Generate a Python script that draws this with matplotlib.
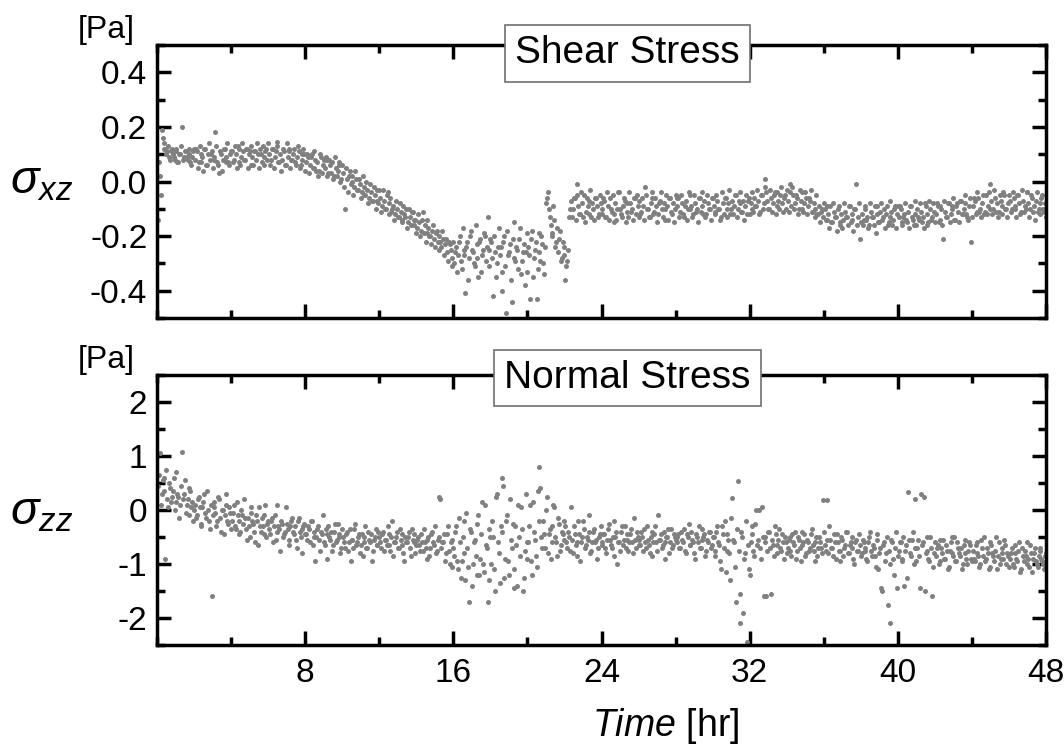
import numpy as np
import matplotlib.pyplot as plt
from matplotlib.ticker import MultipleLocator

plt.rcParams['font.family'] = ['Liberation Sans', 'DejaVu Sans']
plt.rcParams['mathtext.fontset'] = 'custom'
plt.rcParams['mathtext.rm'] = 'Liberation Sans'
plt.rcParams['mathtext.it'] = 'Liberation Sans:italic'

# shear stress sigma_xz [Pa]; readings at t = 0.05, 0.15, ... hr (rows = 2 hr)
shear_a = [
    -0.14, 0.02, 0.19, 0.14, 0.12, 0.11, 0.09, 0.11, 0.10, 0.08, 0.12, 0.07, 0.10, 0.20, 0.09, 0.11, 0.08, 0.10, 0.06, 0.11,
    0.08, 0.11, 0.07, 0.10, 0.09, 0.12, 0.06, 0.10, 0.08, 0.11, 0.09, 0.18, 0.07, 0.03, 0.10, 0.08, 0.12, 0.09, 0.07, 0.10,
    0.11, 0.08, 0.10, 0.13, 0.07, 0.09, 0.11, 0.08, 0.12, 0.10, 0.06, 0.09, 0.11, 0.08, 0.10, 0.12, 0.07, 0.09, 0.11, 0.08,
    0.10, 0.08, 0.12, 0.09, 0.145, 0.07, 0.10, 0.08, 0.11, 0.06, 0.09, 0.12, 0.08, 0.10, 0.07, 0.09, 0.11, 0.06, 0.08, 0.10,
    0.07, 0.09, 0.06, 0.10, 0.05, 0.08, 0.07, 0.04, 0.09, 0.06, 0.05, 0.08, 0.03, 0.06, 0.07, 0.02, 0.05, 0.04, 0.06, 0.01,
    0.03, -0.10, 0.01, 0.02, -0.01, 0.00, -0.02, 0.01, -0.03, -0.01, -0.04, -0.02, -0.05, -0.03, -0.06, -0.04, -0.07, -0.05, -0.03, -0.08,
    -0.06, -0.09, -0.07, -0.10, -0.04, -0.08, -0.11, -0.09, -0.12, -0.10, -0.13, -0.11, -0.14, -0.12, -0.10, -0.15, -0.13, -0.11, -0.16, -0.14,
    -0.17, -0.15, -0.18, -0.11, -0.16, -0.19, -0.17, -0.20, -0.18, -0.21, -0.19, -0.22, -0.20, -0.24, -0.21, -0.23, -0.26, -0.22, -0.25, -0.28,
    -0.30, -0.24, -0.27, -0.20, -0.32, -0.25, -0.41, -0.22, -0.28, -0.18, -0.26, -0.31, -0.23, -0.35, -0.21, -0.27, -0.19, -0.29, -0.13, -0.25,
    -0.22, -0.42, -0.26, -0.30, -0.17, -0.24, -0.33, -0.20, -0.48, -0.27, -0.23, -0.44, -0.15, -0.29, -0.25, -0.21, -0.34, -0.26, -0.38, -0.19,
    -0.24, -0.43, -0.18, -0.28, -0.22, -0.32, -0.26, -0.20, -0.30, -0.24, -0.06, -0.10, -0.16, -0.20, -0.14, -0.22, -0.26, -0.18, -0.28, -0.24,
    -0.36, -0.29, -0.13, -0.07, -0.10, -0.06, -0.01, -0.09, -0.12, -0.08, -0.05, -0.11, -0.09, -0.07, -0.13, -0.10, -0.06, -0.09, -0.12, -0.08,
    -0.10, -0.07, -0.13, -0.09, -0.06, -0.11, -0.15, -0.08, -0.10, -0.04, -0.12, -0.09, -0.07, -0.11, -0.13, -0.08, -0.10, -0.06, -0.12, -0.09,
    -0.07, -0.11, -0.09, -0.02, -0.10, -0.13, -0.08, -0.06, -0.11, -0.09, -0.12, -0.07, -0.10, -0.08, -0.14, -0.09, -0.06, -0.11, -0.08, -0.10,
    -0.09, -0.06, -0.11, -0.08, -0.13, -0.07, -0.10, -0.05, -0.09, -0.12, -0.08, -0.10, -0.06, -0.11, -0.09, -0.07, -0.12, -0.08, -0.10, -0.06,
    -0.09, -0.11, -0.07, -0.10, -0.13, -0.08, -0.06, -0.10, -0.08, -0.12, -0.07, -0.09, -0.05, -0.10, -0.08, -0.11, -0.07, -0.09, -0.12, -0.06,
    -0.08, -0.10, -0.06, -0.09, -0.07, -0.11, -0.05, -0.08, 0.01, -0.07, -0.10, -0.06, -0.08, -0.04, -0.09, -0.07, -0.05, -0.08, -0.06, -0.10,
    -0.07, -0.01, -0.09, -0.05, -0.08, -0.06, -0.10, -0.07, -0.04, -0.08, -0.06, -0.09, -0.07, -0.11, -0.08, -0.10, -0.12, -0.09, -0.11, -0.13,
    -0.10, -0.14, -0.12, -0.09, -0.15, -0.11, -0.13, -0.10, -0.16, -0.12, -0.14, -0.11, -0.13, -0.09, -0.15, -0.12, -0.10, -0.01, -0.13, -0.21,
    -0.12, -0.14, -0.10, -0.13, -0.16, -0.11, -0.13, -0.09, -0.12, -0.15, -0.11, -0.14, -0.10, -0.12, -0.16, -0.13, -0.11, -0.14, -0.09, -0.12,
    -0.13, -0.10, -0.15, -0.12, -0.14, -0.11, -0.09, -0.13, -0.16, -0.12, -0.10, -0.14, -0.11, -0.13, -0.08, -0.12, -0.15, -0.10, -0.13, -0.11,
    -0.12, -0.09, -0.14, -0.10, -0.21, -0.11, -0.13, -0.08, -0.12, -0.10, -0.14, -0.09, -0.11, -0.07, -0.12, -0.10, -0.08, -0.13, -0.09, -0.22,
    -0.09, -0.07, -0.11, -0.06, -0.10, -0.08, -0.12, -0.05, -0.09, -0.01, -0.07, -0.10, -0.06, -0.08, -0.11, -0.07, -0.09, -0.05, -0.10, -0.08,
    -0.07, -0.10, -0.06, -0.09, -0.05, -0.08, -0.11, -0.07, -0.09, -0.04, -0.08, -0.10, -0.06, -0.09, -0.07, -0.11, -0.08, -0.06, -0.10, -0.08,
]

# shear stress, readings in between: t = 0.1, 0.2, ... 48.0 hr
shear_b = [
    0.07, -0.05, 0.16, 0.12, 0.10, 0.13, 0.08, 0.12, 0.09, 0.11, 0.07, 0.10, 0.13, 0.08, 0.11, 0.09, 0.12, 0.07, 0.09, 0.12,
    0.12, 0.05, 0.13, 0.07, 0.04, 0.12, 0.06, 0.14, 0.10, 0.05, 0.08, 0.13, 0.06, 0.11, 0.04, 0.12, 0.07, 0.14, 0.06, 0.11,
    0.07, 0.13, 0.05, 0.12, 0.06, 0.14, 0.08, 0.12, 0.05, 0.11, 0.13, 0.06, 0.11, 0.14, 0.05, 0.10, 0.13, 0.06, 0.12, 0.14,
    0.06, 0.12, 0.05, 0.11, 0.13, 0.07, 0.04, 0.12, 0.06, 0.14, 0.11, 0.05, 0.08, 0.12, 0.06, 0.13, 0.05, 0.10, 0.12, 0.04,
    0.10, 0.03, 0.09, 0.05, 0.11, 0.04, 0.02, 0.10, 0.03, 0.08, 0.09, 0.02, 0.08, 0.03, 0.01, 0.09, 0.02, 0.07, 0.00, 0.06,
    -0.02, 0.05, -0.04, 0.04, 0.02, -0.05, 0.04, -0.03, 0.01, -0.06, 0.02, -0.05, 0.00, -0.08, -0.01, -0.07, -0.02, -0.10, -0.07, -0.03,
    -0.11, -0.03, -0.10, -0.05, -0.12, -0.06, -0.10, -0.14, -0.07, -0.13, -0.08, -0.15, -0.09, -0.13, -0.17, -0.10, -0.16, -0.11, -0.14, -0.19,
    -0.12, -0.20, -0.14, -0.19, -0.22, -0.14, -0.20, -0.23, -0.16, -0.24, -0.18, -0.25, -0.22, -0.18, -0.27, -0.21, -0.29, -0.23, -0.31, -0.22,
    -0.26, -0.33, -0.22, -0.29, -0.17, -0.27, -0.24, -0.36, -0.20, -0.25, -0.30, -0.16, -0.28, -0.22, -0.33, -0.25, -0.20, -0.24, -0.31, -0.21,
    -0.28, -0.20, -0.35, -0.24, -0.27, -0.40, -0.22, -0.31, -0.18, -0.26, -0.36, -0.21, -0.28, -0.24, -0.32, -0.17, -0.29, -0.23, -0.26, -0.33,
    -0.27, -0.21, -0.35, -0.25, -0.43, -0.19, -0.29, -0.23, -0.34, -0.08, -0.04, -0.13, -0.19, -0.09, -0.24, -0.17, -0.21, -0.29, -0.22, -0.27,
    -0.31, -0.25, -0.10, -0.13, -0.06, -0.14, -0.05, -0.12, -0.04, -0.13, -0.15, -0.06, -0.12, -0.03, -0.08, -0.14, -0.06, -0.13, -0.05, -0.12,
    -0.06, -0.13, -0.04, -0.14, -0.10, -0.05, -0.12, -0.14, -0.04, -0.10, -0.13, -0.06, -0.15, -0.08, -0.04, -0.11, -0.14, -0.06, -0.05, -0.13,
    -0.12, -0.06, -0.14, -0.05, -0.10, -0.13, -0.04, -0.12, -0.06, -0.15, -0.08, -0.04, -0.13, -0.10, -0.05, -0.14, -0.06, -0.12, -0.15, -0.05,
    -0.06, -0.13, -0.05, -0.12, -0.09, -0.14, -0.04, -0.10, -0.13, -0.05, -0.11, -0.15, -0.06, -0.04, -0.12, -0.13, -0.05, -0.10, -0.14, -0.06,
    -0.12, -0.05, -0.10, -0.14, -0.04, -0.12, -0.06, -0.13, -0.03, -0.10, -0.12, -0.05, -0.13, -0.07, -0.04, -0.11, -0.14, -0.05, -0.07, -0.12,
    -0.04, -0.11, -0.09, -0.03, -0.12, -0.05, -0.10, -0.02, -0.04, -0.10, -0.03, -0.11, -0.05, -0.12, -0.04, -0.10, -0.02, -0.11, -0.05, -0.03,
    -0.11, -0.04, -0.02, -0.10, -0.05, -0.12, -0.03, -0.10, -0.11, -0.04, -0.12, -0.06, -0.03, -0.11, -0.13, -0.05, -0.12, -0.15, -0.10, -0.08,
    -0.14, -0.09, -0.17, -0.15, -0.08, -0.13, -0.18, -0.09, -0.15, -0.17, -0.08, -0.13, -0.16, -0.09, -0.14, -0.18, -0.10, -0.16, -0.08, -0.15,
    -0.16, -0.09, -0.14, -0.17, -0.08, -0.13, -0.16, -0.19, -0.09, -0.15, -0.08, -0.13, -0.17, -0.09, -0.15, -0.07, -0.16, -0.10, -0.17, -0.09,
    -0.09, -0.16, -0.13, -0.08, -0.15, -0.17, -0.09, -0.14, -0.07, -0.16, -0.13, -0.08, -0.15, -0.17, -0.09, -0.16, -0.07, -0.14, -0.08, -0.15,
    -0.08, -0.15, -0.09, -0.16, -0.07, -0.13, -0.08, -0.15, -0.09, -0.06, -0.14, -0.08, -0.15, -0.07, -0.12, -0.05, -0.12, -0.14, -0.06, -0.13,
    -0.06, -0.12, -0.04, -0.11, -0.13, -0.05, -0.11, -0.12, -0.04, -0.10, -0.12, -0.03, -0.11, -0.13, -0.05, -0.12, -0.04, -0.10, -0.13, -0.05,
    -0.11, -0.04, -0.10, -0.13, -0.05, -0.12, -0.03, -0.11, -0.10, -0.04, -0.13, -0.05, -0.11, -0.14, -0.04, -0.10, -0.12, -0.05, -0.11, -0.13,
]

# normal stress sigma_zz [Pa]; t = 0.05, 0.15, ... hr
normal_a = [
    0.45, 1.05, 0.30, 0.60, -0.90, 0.20, 0.50, 0.15, 0.35, 0.00, 0.70, 0.25, 0.10, 1.08, 0.30, -0.05, 0.20, 0.40, 0.05, -0.20,
    0.10, -0.10, 0.25, -0.30, 0.05, 0.30, -0.15, 0.00, -0.35, -1.60, 0.15, -0.05, -0.20, 0.20, -0.40, 0.00, -0.10, 0.30, -0.25, -0.05,
    -0.20, 0.10, -0.35, -0.10, -0.45, 0.00, -0.25, -0.15, -0.55, -0.30, 0.05, -0.20, -0.40, -0.10, -0.65, -0.30, -0.15, -0.45, 0.10, -0.25,
    -0.35, -0.20, -0.60, -0.10, -0.40, -0.30, -0.75, -0.25, -0.45, 0.05, -0.35, -0.55, -0.20, -0.40, -0.30, -0.70, -0.15, -0.50, -0.35, -0.25,
    -0.45, -0.30, -0.60, -0.20, -0.50, -0.95, -0.35, -0.55, -0.40, -0.10, -0.65, -0.45, -0.30, -0.55, -0.75, -0.40, -0.60, -0.25, -0.50, -0.70,
    -0.50, -0.70, -0.40, -0.60, -0.95, -0.55, -0.35, -0.65, -0.50, -0.80, -0.45, -0.60, -0.30, -0.70, -0.55, -0.45, -0.75, -0.50, -0.65, -0.40,
    -0.60, -0.45, -0.75, -0.55, -0.30, -0.65, -0.50, -0.85, -0.60, -0.40, -0.70, -0.55, -0.45, -0.95, -0.60, -0.50, -0.70, -0.35, -0.60, -0.80,
    -0.55, -0.65, -0.45, -0.75, -0.60, -0.90, -0.50, -0.70, -0.40, -0.65, -0.80, -0.55, 0.25, -0.70, -0.60, -0.95, -0.45, -0.75, -0.60, -1.05,
    -0.85, -0.30, -1.10, -0.60, -0.95, -0.20, -1.30, -0.70, -1.70, -0.40, -1.00, -0.55, -1.20, -0.10, -0.90, 0.15, -1.15, -0.65, -1.70, -0.35,
    -1.00, -0.50, -1.50, 0.30, -0.80, -0.30, 0.60, -1.25, -0.20, -0.95, 0.20, -0.70, -1.10, -0.30, -1.40, -0.50, 0.05, -1.50, -0.75, -0.90,
    -0.60, 0.10, -1.20, -0.40, -0.85, 0.35, 0.80, -0.50, -0.20, -0.70, 0.25, -0.45, -0.90, -0.30, 0.05, -0.60, -0.15, -0.75, -0.40, -0.55,
    -0.30, -0.70, -0.50, 0.05, -0.80, -0.45, -0.60, -0.20, -0.95, -0.50, -0.35, -0.65, -0.55, -0.10, -0.75, -0.40, -0.60, -0.90, -0.50, -0.30,
    -0.60, -0.45, -0.80, -0.35, -0.55, -0.70, -0.20, -0.50, -1.00, -0.60, -0.40, -0.65, -0.30, -0.55, -0.75, -0.45, -0.60, -0.15, -0.70, -0.50,
    -0.55, -0.40, -0.75, -0.60, -0.30, -0.65, -0.50, -0.85, -0.45, -0.60, -0.10, -0.55, -0.70, -0.40, -0.60, -0.50, -0.80, -0.35, -0.65, -0.50,
    -0.60, -0.45, -0.70, -0.55, -0.35, -0.80, -0.50, -0.65, -0.40, -0.60, -0.90, -0.50, -0.30, -0.70, -0.55, -0.45, -0.75, -0.60, -0.40, -0.65,
    -0.50, -0.85, -0.30, -0.65, -1.10, -0.45, -0.20, -0.75, -0.55, -1.30, 0.22, -0.60, -1.70, 0.53, -2.10, -0.40, -1.90, -0.80, -2.45, -1.10,
    -0.60, -0.30, -0.85, 0.00, -0.55, -0.70, 0.05, -1.60, -0.50, -0.75, -0.40, -1.55, -0.65, -0.30, -0.80, -0.55, -0.70, -0.45, -0.90, -0.60,
    -0.70, -0.50, -0.85, -0.60, -0.40, -0.75, -0.55, -0.95, -0.65, -0.45, -0.80, -0.60, -0.70, -0.35, -0.75, -0.60, -0.85, -0.50, -0.70, 0.18,
    -0.65, 0.18, -0.80, -0.55, -0.70, -0.45, -0.90, -0.60, -0.75, -0.50, -0.85, -0.65, -0.40, -0.80, -0.60, -0.70, -1.00, -0.55, -0.75, -0.65,
    -0.80, -0.60, -0.70, -0.95, -0.50, -0.75, -0.65, -0.85, -0.45, -1.10, -0.70, -1.50, -0.60, -0.80, -1.75, -2.10, -0.55, -0.90, -0.70, -1.45,
    -0.75, -0.60, -0.90, -1.40, -0.65, 0.33, -0.80, -0.55, -1.00, 0.20, -0.70, -0.85, 0.30, -0.60, -1.50, -0.75, -0.90, -0.50, -1.60, -0.80,
    -0.85, -0.65, -0.95, -0.70, -0.55, -0.90, -0.75, -1.05, -0.60, -0.80, -0.50, -0.95, -0.70, -0.85, -1.10, -0.65, -0.80, -1.00, -0.60, -0.90,
    -0.75, -0.95, -0.60, -0.85, -1.00, -0.70, -0.50, -0.90, -0.80, -1.05, -0.65, -0.85, -0.75, -1.10, -0.60, -0.90, -0.80, -0.55, -1.00, -0.85,
    -0.90, -0.70, -1.05, -0.80, -0.95, -0.60, -1.10, -0.85, -0.75, -1.00, -0.90, -0.65, -1.15, -0.80, -0.95, -1.05, -0.70, -0.90, -1.00, -0.85,
]

# normal stress, readings in between: t = 0.1, 0.2, ... 48.0 hr
normal_b = [
    0.65, 0.10, 0.55, 0.35, 0.75, 0.05, 0.40, 0.25, 0.60, 0.15, 0.30, -0.15, 0.45, 0.20, 0.55, 0.10, -0.10, 0.35, 0.15, 0.00,
    -0.15, 0.20, 0.05, -0.25, 0.15, -0.05, 0.35, -0.20, 0.10, -0.10, 0.05, -0.30, 0.25, -0.15, 0.00, -0.45, 0.10, -0.20, 0.05, -0.35,
    -0.05, -0.30, 0.15, -0.20, -0.40, -0.10, 0.20, -0.35, -0.15, -0.50, -0.05, -0.25, -0.60, -0.20, 0.05, -0.40, -0.30, -0.10, -0.50, -0.20,
    -0.45, -0.15, -0.30, -0.55, 0.10, -0.35, -0.20, -0.50, -0.40, -0.25, -0.65, -0.30, -0.15, -0.45, -0.55, -0.20, -0.40, -0.80, -0.30, -0.45,
    -0.55, -0.35, -0.20, -0.65, -0.40, -0.50, -0.30, -0.75, -0.45, -0.60, -0.35, -0.90, -0.50, -0.40, -0.65, -0.25, -0.55, -0.45, -0.80, -0.35,
    -0.60, -0.45, -0.75, -0.35, -0.55, -0.70, -0.25, -0.60, -0.45, -0.65, -0.85, -0.50, -0.70, -0.40, -0.60, -0.95, -0.55, -0.35, -0.65, -0.50,
    -0.70, -0.40, -0.55, -0.65, -0.45, -0.75, -0.20, -0.60, -0.50, -0.70, -0.35, -0.65, -0.80, -0.50, -0.60, -0.40, -0.85, -0.55, -0.45, -0.65,
    -0.50, -0.75, -0.60, -0.35, -0.70, -0.55, -0.85, -0.45, -0.60, -0.30, -0.75, -0.50, 0.20, -0.60, -0.45, -0.80, -0.30, -1.00, -0.55, -0.70,
    -0.40, -0.95, -0.15, -1.25, -0.50, -0.80, -0.05, -1.05, -0.35, -1.40, -0.60, -0.85, -0.25, -1.20, -0.45, -1.00, 0.10, -0.70, -1.30, -0.50,
    -0.20, -1.10, 0.25, -0.60, -1.35, -0.40, 0.45, -0.90, -0.10, -1.20, -0.55, -0.25, -1.45, -0.65, 0.10, -0.85, -0.35, -1.25, 0.30, -0.60,
    -0.30, -0.95, 0.15, -0.55, -1.05, -0.20, 0.40, -0.70, -0.45, 0.00, -0.80, -0.35, -0.60, 0.10, -0.50, -0.85, -0.25, -0.65, -0.45, -0.20,
    -0.60, -0.40, -0.75, -0.55, -0.30, -0.65, -0.85, -0.45, -0.60, -0.20, -0.70, -0.50, -0.40, -0.80, -0.60, -0.35, -0.55, -0.70, -0.45, -0.65,
    -0.45, -0.70, -0.55, -0.25, -0.65, -0.50, -0.85, -0.40, -0.60, -0.75, -0.30, -0.55, -0.70, -0.45, -0.60, -0.35, -0.80, -0.55, -0.40, -0.65,
    -0.65, -0.50, -0.35, -0.70, -0.55, -0.80, -0.40, -0.60, -0.30, -0.75, -0.55, -0.45, -0.65, -0.90, -0.50, -0.35, -0.60, -0.70, -0.45, -0.55,
    -0.50, -0.70, -0.40, -0.60, -0.75, -0.45, -0.25, -0.65, -0.55, -0.80, -0.45, -0.60, -0.70, -0.35, -0.50, -0.85, -0.55, -0.40, -0.70, -0.50,
    -0.75, -0.40, -0.60, -0.95, -0.30, -0.70, -1.15, -0.45, -0.80, -0.15, -0.55, -1.05, -0.35, -0.75, -1.55, -0.50, -0.90, -0.20, -0.65, -1.20,
    -0.45, -0.75, -0.25, -0.65, 0.00, -0.90, -0.50, -0.60, -1.60, -0.40, -0.70, -0.55, -0.85, -0.45, -0.65, -0.35, -0.75, -0.60, -0.50, -0.80,
    -0.55, -0.75, -0.45, -0.65, -0.90, -0.50, -0.70, -0.40, -0.60, -0.85, -0.55, -0.75, -0.45, -0.65, -0.95, -0.50, -0.70, -0.60, -0.80, -0.40,
    -0.75, -0.55, -0.30, -0.70, -0.85, -0.60, -0.45, -0.75, -0.95, -0.55, -0.70, -0.40, -0.80, -0.65, -0.50, -0.90, -0.60, -0.75, -0.45, -0.85,
    -0.55, -0.75, -0.90, -0.60, -0.40, -0.85, -0.70, -1.05, -0.55, -0.80, -1.45, -0.65, -0.95, -0.50, -0.75, -1.00, -0.60, -1.20, -0.40, -0.85,
    -0.60, -0.95, -0.50, -0.75, -1.25, -0.55, -0.85, -0.40, -0.70, -0.95, -0.55, -1.45, -0.65, 0.25, -0.80, -0.50, -0.95, -0.70, -1.05, -0.60,
    -0.70, -1.00, -0.55, -0.80, -0.90, -0.65, -1.10, -0.75, -0.50, -0.85, -0.95, -0.60, -0.80, -0.70, -1.00, -0.55, -0.90, -0.75, -0.65, -0.95,
    -0.90, -0.65, -0.80, -1.05, -0.55, -0.85, -0.95, -0.70, -1.10, -0.60, -0.80, -0.95, -0.50, -0.85, -1.00, -0.70, -0.90, -0.65, -0.80, -1.05,
    -0.80, -1.00, -0.65, -0.90, -0.75, -1.15, -0.70, -0.95, -0.85, -0.60, -1.05, -0.80, -0.90, -0.70, -1.00, -0.85, -0.75, -0.95, -1.10, -0.80,
]

t_a = np.linspace(0.05, 47.95, len(shear_a))
t_b = np.linspace(0.1, 48.0, len(shear_b))

x_ticks = [8, 16, 24, 32, 40, 48]

fig = plt.figure(figsize=(10.64, 7.53), dpi=100)
ax1 = fig.add_axes([0.1476, 0.5777, 0.8355, 0.3625])
ax2 = fig.add_axes([0.1476, 0.1434, 0.8355, 0.3586])

gray = '#808080'


def style(ax, ylim, major, minor, fmt):
    ax.set_xlim(0, 48)
    ax.set_ylim(*ylim)
    ax.set_xticks(x_ticks)
    ax.xaxis.set_minor_locator(MultipleLocator(4))
    ax.yaxis.set_major_locator(MultipleLocator(major))
    ax.yaxis.set_minor_locator(MultipleLocator(minor))
    ax.yaxis.set_major_formatter(fmt)
    ax.tick_params(which='both', direction='in', top=True, right=True, width=2.5)
    ax.tick_params(which='major', length=10, labelsize=24)
    ax.tick_params(which='minor', length=5.5)
    ax.tick_params(axis='y', pad=7)
    ax.tick_params(axis='x', pad=9)
    for s in ax.spines.values():
        s.set_linewidth(2.5)


for t, v in [(t_a, shear_a), (t_b, shear_b)]:
    ax1.plot(t, v, 'o', color=gray, ms=3.6, mec='none')
style(ax1, (-0.5, 0.5), 0.2, 0.1, lambda v, p: f'{v:.1f}')
ax1.tick_params(axis='x', labelbottom=False)

for t, v in [(t_a, normal_a), (t_b, normal_b)]:
    ax2.plot(t, v, 'o', color=gray, ms=3.6, mec='none')
style(ax2, (-2.5, 2.5), 1, 0.5, lambda v, p: f'{v:.0f}')

box = dict(boxstyle='square,pad=0.26', fc='white', ec='#707070', lw=1.2)
ax1.text(0.529, 0.969, 'Shear Stress', transform=ax1.transAxes, ha='center', va='center',
         fontsize=28, bbox=box, zorder=5)
ax2.text(0.529, 0.99, 'Normal Stress', transform=ax2.transAxes, ha='center', va='center',
         fontsize=28, bbox=box, zorder=5)

ax1.text(-0.025, 1.0, '[Pa]', transform=ax1.transAxes, ha='right', va='bottom', fontsize=23)
ax2.text(-0.025, 1.0, '[Pa]', transform=ax2.transAxes, ha='right', va='bottom', fontsize=23)

ax1.text(-0.13, 0.5, r'$\sigma_{xz}$', transform=ax1.transAxes, ha='center', va='center', fontsize=34)
ax2.text(-0.13, 0.49, r'$\sigma_{zz}$', transform=ax2.transAxes, ha='center', va='center', fontsize=34)

fig.text(0.626, 0.022, r'$\mathit{Time}$ [hr]', ha='center', va='baseline', fontsize=27)

fig.savefig('out.png', dpi=100)
